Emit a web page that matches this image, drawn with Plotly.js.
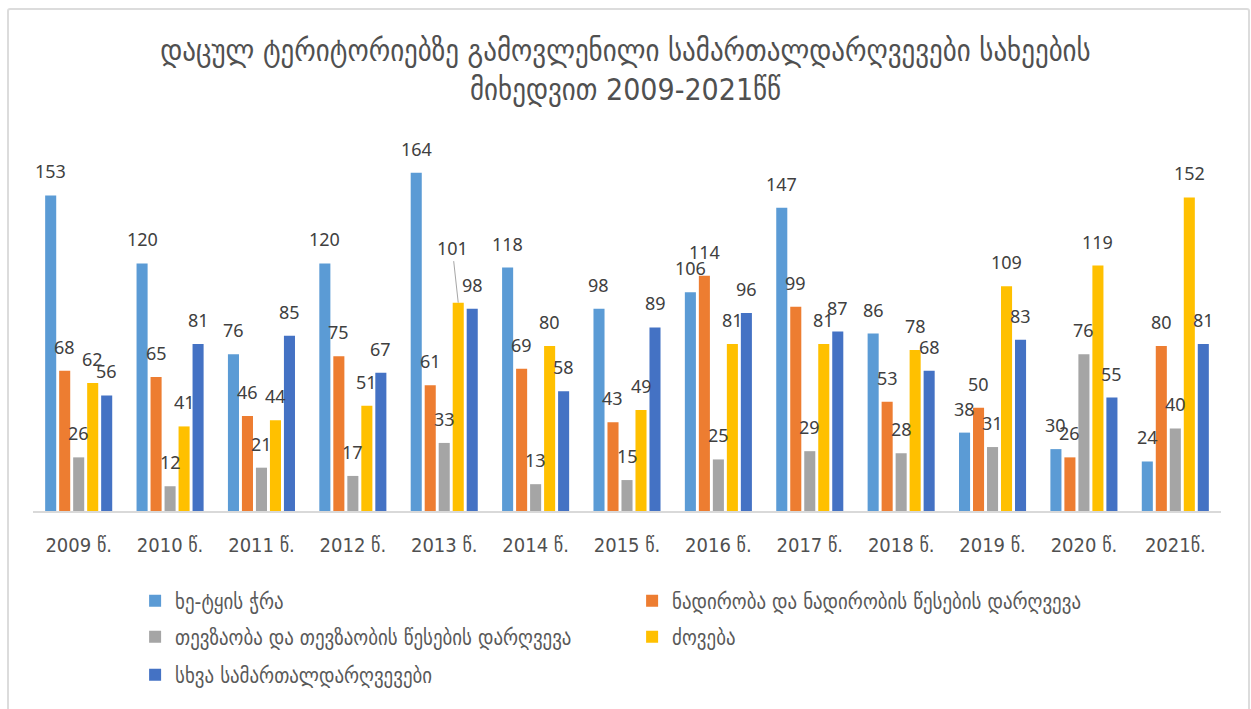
<!DOCTYPE html>
<html><head><meta charset="utf-8">
<script src="https://cdn.plot.ly/plotly-3.0.1.min.js"></script>
<style>
html,body{margin:0;padding:0;background:#fff;overflow:hidden}
#frame{position:absolute;left:7px;top:8px;width:1239px;height:720px;border:2px solid #dcdcdc;border-radius:3px;pointer-events:none}
</style></head><body>
<div id="chart" style="width:1251px;height:709px"></div>
<div id="frame"></div>
<script>
const categories = ['2009 წ.','2010 წ.','2011 წ.','2012 წ.','2013 წ.','2014 წ.','2015 წ.','2016 წ.','2017 წ.','2018 წ.','2019 წ.','2020 წ.','2021წ.'];
const seriesNames = ['ხე-ტყის ჭრა','ნადირობა და ნადირობის წესების დარღვევა','თევზაობა და თევზაობის წესების დარღვევა','ძოვება','სხვა სამართალდარღვევები'];
const logging   = [153,120,76,120,164,118,98,106,147,86,38,30,24];
const hunting   = [68,65,46,75,61,69,43,114,99,53,50,26,80];
const fishing   = [26,12,21,17,33,13,15,25,29,28,31,76,40];
const grazing   = [62,41,44,51,101,80,49,81,81,78,109,119,152];
const other     = [56,81,85,67,98,58,89,96,87,68,83,55,81];
const titleText = 'დაცულ ტერიტორიებზე გამოვლენილი სამართალდარღვევები სახეების<br>მიხედვით 2009-2021წწ';

const seriesValues = [logging, hunting, fishing, grazing, other];
const colors = ['#5B9BD5','#ED7D31','#A5A5A5','#FFC000','#4472C4'];
const legendIds = ['legend','legend','legend2','legend2','legend3'];
const geoFont = 'DejaVu Sans Condensed, DejaVu Sans, sans-serif';
const numFont = 'Noto Sans, DejaVu Sans, sans-serif';

const W = 1251, H = 709;
const margin = {l:33, r:30, t:150, b:198};
const bargap = 0.234, bargroupgap = 0.21;
const plotW = W - margin.l - margin.r;
const slot = plotW / categories.length * (1 - bargap) / seriesValues.length;

const traces = seriesValues.map((vals, i) => ({
  type:'bar', x:categories, y:vals, name:seriesNames[i],
  marker:{color:colors[i]}, legend:legendIds[i], hoverinfo:'x+y+name'
}));

// special label placement (leader line) : key = series-category index
const leader = {'3-4': {ax:-6, ay:-55}};

const annotations = [];
seriesValues.forEach((vals, i) => {
  vals.forEach((v, j) => {
    const xs = (i - (seriesValues.length - 1) / 2) * slot;
    const key = i + '-' + j;
    const base = {x:categories[j], y:v, xref:'x', yref:'y', text:String(v),
      xshift:xs, font:{family:numFont, size:18, color:'#404040'}};
    if (leader[key]) {
      annotations.push(Object.assign(base, {showarrow:true, arrowhead:0, arrowwidth:1,
        arrowcolor:'#a6a6a6', ax:leader[key].ax, ay:leader[key].ay, standoff:0}));
    } else {
      annotations.push(Object.assign(base, {showarrow:false, yanchor:'middle', yshift:24}));
    }
  });
});

const legendCommon = {orientation:'h', xref:'container', yref:'container', x:0.108,
  xanchor:'left', yanchor:'middle', entrywidth:452, entrywidthmode:'pixels',
  font:{family:geoFont, size:21, color:'#595959'}, bgcolor:'rgba(0,0,0,0)', itemclick:false};

const layout = {
  width:W, height:H, margin:margin, paper_bgcolor:'#fff', plot_bgcolor:'#fff',
  title:{text:titleText, x:0.5, xanchor:'center', y:1-61/H, yanchor:'middle', yref:'container',
    font:{family:geoFont, size:30, color:'#505050'}},
  barmode:'group', bargap:bargap, bargroupgap:bargroupgap,
  showlegend:true,
  legend:Object.assign({}, legendCommon, {y:1-601/H}),
  legend2:Object.assign({}, legendCommon, {y:1-637/H}),
  legend3:Object.assign({}, legendCommon, {y:1-675/H}),
  xaxis:{type:'category', showline:true, linecolor:'#d9d9d9', linewidth:1.5, ticks:'',
    ticklabelstandoff:15, tickfont:{family:geoFont, size:20, color:'#505050'}, showgrid:false},
  yaxis:{range:[0,175], visible:false, showgrid:false, zeroline:false},
  annotations:annotations
};

Plotly.newPlot('chart', traces, layout, {displayModeBar:false, staticPlot:true});
</script>
</body></html>
